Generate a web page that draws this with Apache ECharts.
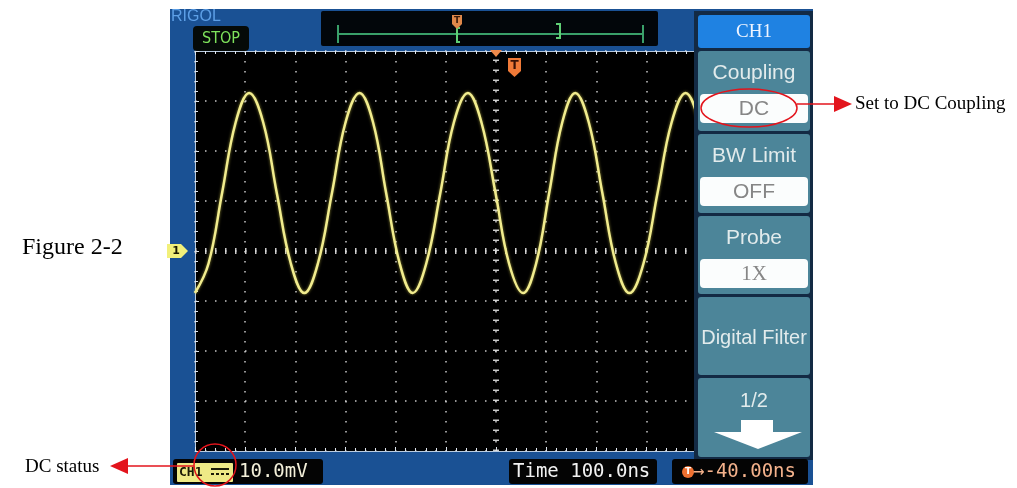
<!DOCTYPE html>
<html>
<head>
<meta charset="utf-8">
<title>Figure 2-2</title>
<script src="https://cdn.jsdelivr.net/npm/echarts@6/dist/echarts.min.js"></script>
<style>
  html, body { margin: 0; padding: 0; background: #fff; }
  #chart { width: 1017px; height: 488px; }
</style>
</head>
<body>
<div id="chart"></div>
<script>
// waveform: time (ns from centre line) and voltage (mV from CH1 ground)
const timeNs = [
  -600, -573, -546, -519, -492, -464, -437, -409,
  -382, -355, -327, -300, -272, -245, -219, -192,
  -166, -139, -111, -84, -56, -29, -1, 26,
  54, 80, 106, 132, 158, 185, 212, 239,
  266, 294, 322, 350, 378, 405, 433, 460,
  488, 515, 543, 570, 598
]
const voltMv = [
  -8.4, -2.5, 11.6, 25.7, 31.6, 25.7, 11.6, -2.5,
  -8.4, -2.5, 11.6, 25.7, 31.6, 25.7, 11.6, -2.5,
  -8.4, -2.5, 11.6, 25.7, 31.6, 25.7, 11.6, -2.5,
  -8.4, -2.5, 11.6, 25.7, 31.6, 25.7, 11.6, -2.5,
  -8.4, -2.5, 11.6, 25.7, 31.6, 25.7, 11.6, -2.5,
  -8.4, -2.5, 11.6, 25.7, 31.6
]

// graticule: 12 x 100 ns, 8 x 10 mV
const timeRange = [-600, 600]
const voltRange = [-40, 40]
const timePerDiv = 100
const voltPerDiv = 10

const channelTitle = 'CH1'
const menuLabels = ['Coupling', 'BW Limit', 'Probe', 'Digital Filter', '1/2']
const menuValues = ['DC', 'OFF', '1X', '', '']
const scaleText = '10.0mV'
const timebaseText = 'Time 100.0ns'
const triggerText = '-40.00ns'

const chart = echarts.init(document.getElementById('chart'))

const g = []
const rect = (x, y, w, h, fill, r, z, extra) => g.push(Object.assign({
  type: 'rect', z: z, shape: { x, y, width: w, height: h, r: r || 0 }, style: { fill }
}, extra || {}))
const text = (x, y, str, font, fill, align, z) => g.push({
  type: 'text', x, y, z: z || 20,
  style: { text: str, font, fill, align: align || 'left', verticalAlign: 'middle' }
})

// scope screen background
rect(170, 9, 643, 476, '#1a5194', 0, -5)

// top: logo, run state, trigger position bar
text(171, 17, 'RIGOL', '16px "Liberation Sans"', '#5d9fe6')
rect(193, 26, 56, 25, '#050a08', 4, 5)
text(221, 39, 'STOP', '16px "DejaVu Sans Condensed", "Liberation Sans"', '#7ee35c', 'center')
rect(321, 11, 337, 35, '#02060a', 2, 5)
g.push({ type: 'line', z: 6, shape: { x1: 338, y1: 34, x2: 643, y2: 34 }, style: { stroke: '#3aa06a', lineWidth: 2 } })
g.push({ type: 'line', z: 6, shape: { x1: 338, y1: 25, x2: 338, y2: 43 }, style: { stroke: '#3aa06a', lineWidth: 2 } })
g.push({ type: 'line', z: 6, shape: { x1: 643, y1: 25, x2: 643, y2: 43 }, style: { stroke: '#3aa06a', lineWidth: 2 } })
g.push({ type: 'polyline', z: 6, shape: { points: [[460, 28], [457, 28], [457, 42], [460, 42]] }, style: { stroke: '#5fcf75', lineWidth: 2, fill: null } })
g.push({ type: 'polyline', z: 6, shape: { points: [[556, 24], [560, 24], [560, 38], [556, 38]] }, style: { stroke: '#5fcf75', lineWidth: 2, fill: null } })
g.push({ type: 'polygon', z: 7, shape: { points: [[452, 15], [462, 15], [462, 24], [457, 29], [452, 24]] }, style: { fill: '#e0884a' } })
text(457, 21, 'T', 'bold 9px "DejaVu Sans"', '#3a1a08', 'center', 8)

// trigger markers on the graticule
g.push({ type: 'polygon', z: 30, shape: { points: [[490, 50], [502, 50], [496, 57]] }, style: { fill: '#f08a4a' } })
g.push({ type: 'polygon', z: 30, shape: { points: [[508, 58], [521, 58], [521, 71], [514.5, 77], [508, 71]] }, style: { fill: '#f07a38' } })
text(514.5, 66, 'T', 'bold 12px "DejaVu Sans"', '#3a1206', 'center', 31)

// channel 1 ground marker
g.push({ type: 'polygon', z: 30, shape: { points: [[167, 244], [181, 244], [188, 251], [181, 258], [167, 258]] }, style: { fill: '#f2f07a' } })
text(176, 251, '1', 'bold 11px "DejaVu Sans"', '#1a1a00', 'center', 31)

// soft menu
const mx = 698, mw = 112
rect(694, 11, 119, 449, '#132a44', 0, 40)
rect(mx, 15, mw, 33, '#1f82e2', 3, 41)
text(mx + mw / 2, 32, channelTitle, '19px "Liberation Serif"', '#eef4ff', 'center', 42)
const boxes = [[51, 80], [134, 79], [216, 78], [297, 78], [378, 79]]
boxes.forEach(([y, h], i) => {
  rect(mx, y, mw, h, '#4c8599', 3, 41)
  const v = menuValues[i]
  if (v) {
    text(mx + mw / 2, y + 22, menuLabels[i], '21px "Liberation Sans"', '#e2ebec', 'center', 42)
    rect(mx + 2, y + 43, mw - 4, 29, '#fbfdfd', 4, 42)
    text(mx + mw / 2, y + 58, v, v === '1X' ? '21px "Liberation Serif"' : '21px "Liberation Sans"', '#868686', 'center', 43)
  } else if (i === 3) {
    text(mx + mw / 2, y + 41, menuLabels[i], '20px "Liberation Sans"', '#e2ebec', 'center', 42)
  } else {
    text(mx + mw / 2, y + 23, menuLabels[i], '20px "Liberation Sans"', '#e2ebec', 'center', 42)
    g.push({ type: 'polygon', z: 42, shape: { points: [[741, 420], [773, 420], [773, 432], [802, 432], [758, 449], [714, 432], [741, 432]] }, style: { fill: '#ffffff' } })
  }
})

// status bar
rect(173, 459, 150, 25, '#040404', 3, 40)
rect(177, 463, 56, 19, '#eeea86', 1, 41)
text(179, 473, 'CH1', 'bold 13px "DejaVu Sans Mono"', '#1a1a06', 'left', 42)
g.push({ type: 'line', z: 42, shape: { x1: 211, y1: 469, x2: 229, y2: 469 }, style: { stroke: '#1a1a06', lineWidth: 2 } })
g.push({ type: 'line', z: 42, shape: { x1: 211, y1: 474, x2: 229, y2: 474 }, style: { stroke: '#1a1a06', lineWidth: 2, lineDash: [3, 2] } })
text(239, 472, scaleText, '19px "DejaVu Sans Mono"', '#f4f0da', 'left', 42)
rect(509, 459, 148, 25, '#040404', 3, 40)
text(513, 472, timebaseText, '19px "DejaVu Sans Mono"', '#f2f2f2', 'left', 42)
rect(672, 459, 136, 25, '#040404', 3, 40)
g.push({ type: 'circle', z: 41, shape: { cx: 688, cy: 472, r: 6 }, style: { fill: '#f07030' } })
text(688, 472, 'T', 'bold 9px "DejaVu Sans"', '#ffffff', 'center', 42)
text(693, 472, '\u2192' + triggerText, '19px "DejaVu Sans Mono"', '#f4b28c', 'left', 42)

// page annotations
text(22, 248, 'Figure 2-2', '24px "Liberation Serif"', '#000', 'left', 50)
text(855, 104, 'Set to DC Coupling', '19px "Liberation Serif"', '#000', 'left', 50)
text(25, 467, 'DC status', '19px "Liberation Serif"', '#000', 'left', 50)
g.push({ type: 'ellipse', z: 60, shape: { cx: 749, cy: 108, rx: 48, ry: 19 }, style: { fill: null, stroke: '#e3141c', lineWidth: 1.5 } })
g.push({ type: 'circle', z: 60, shape: { cx: 215, cy: 465, r: 21 }, style: { fill: null, stroke: '#e3141c', lineWidth: 1.5 } })
g.push({ type: 'line', z: 60, shape: { x1: 797, y1: 104, x2: 836, y2: 104 }, style: { stroke: '#e3141c', lineWidth: 1.5 } })
g.push({ type: 'polygon', z: 60, shape: { points: [[834, 96], [852, 104], [834, 112]] }, style: { fill: '#e3141c' } })
g.push({ type: 'line', z: 60, shape: { x1: 194, y1: 466, x2: 126, y2: 466 }, style: { stroke: '#e3141c', lineWidth: 1.5 } })
g.push({ type: 'polygon', z: 60, shape: { points: [[128, 458], [110, 466], [128, 474]] }, style: { fill: '#e3141c' } })

const dots = { color: 'rgba(220,220,220,0.9)', width: 1.5, type: [1.5, 8.5] }
const edge = {
  axisLine: { show: true, onZero: false, lineStyle: { color: '#b9cbe0', width: 1 } },
  axisTick: { show: true, inside: true, length: 4, lineStyle: { color: '#dfe6ee' } },
  minorTick: { show: true, splitNumber: 5, length: 3, lineStyle: { color: '#dfe6ee' } },
  axisLabel: { show: false }
}

chart.setOption({
  animation: false,
  grid: { left: 195, top: 51, width: 602, height: 400, show: true, backgroundColor: '#000', borderWidth: 0 },
  xAxis: [
    Object.assign({ type: 'value', min: timeRange[0], max: timeRange[1], interval: timePerDiv, position: 'bottom',
      splitLine: { show: true, lineStyle: dots } }, edge),
    Object.assign({ type: 'value', min: timeRange[0], max: timeRange[1], interval: timePerDiv, position: 'top',
      splitLine: { show: false } }, edge)
  ],
  yAxis: [
    Object.assign({ type: 'value', min: voltRange[0], max: voltRange[1], interval: voltPerDiv, position: 'left',
      splitLine: { show: true, lineStyle: dots } }, edge)
  ],
  graphic: { elements: g },
  series: [{
    type: 'line',
    name: 'CH1',
    data: timeNs.map((t, i) => [t, voltMv[i]]),
    smooth: 0.4,
    showSymbol: false,
    z: 10,
    lineStyle: { color: '#f1ec8e', width: 2.5, shadowColor: 'rgba(240,230,90,0.6)', shadowBlur: 3 },
    markLine: {
      silent: true,
      symbol: ['none', 'none'],
      label: { show: false },
      lineStyle: { color: 'rgba(225,225,225,0.9)', width: 6, type: [1.5, 8.5] },
      data: [{ xAxis: 0 }, { yAxis: 0 }]
    }
  }]
})
</script>
</body>
</html>
